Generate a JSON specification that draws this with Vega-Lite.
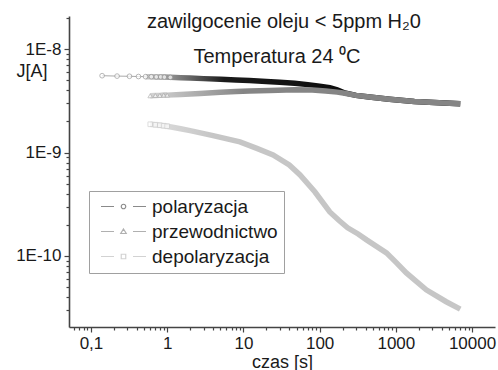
{
  "$schema": "https://vega.github.io/schema/vega-lite/v6.json",
  "width": 426,
  "height": 311,
  "autosize": {"type": "none"},
  "padding": {"left": 69, "top": 16, "right": 3, "bottom": 43},
  "background": "white",
  "config": {
    "view": {"stroke": null},
    "font": "Liberation Sans",
    "axis": {
      "grid": false,
      "domainColor": "#444",
      "domainWidth": 1.6,
      "tickColor": "#444",
      "tickWidth": 1.2,
      "labelFont": "Liberation Sans",
      "labelFontSize": 17,
      "labelColor": "#1a1a1a",
      "titleFont": "Liberation Sans",
      "titleFontSize": 18,
      "titleFontWeight": "normal",
      "titleColor": "#1a1a1a",
      "labelOverlap": false,
      "labelFlush": false
    }
  },
  "datasets": {
    "curves": [
      {"series": "polaryzacja", "t": 0.14, "J": 5.55e-9},
      {"series": "polaryzacja", "t": 0.22, "J": 5.5e-9},
      {"series": "polaryzacja", "t": 0.32, "J": 5.48e-9},
      {"series": "polaryzacja", "t": 0.42, "J": 5.45e-9},
      {"series": "polaryzacja", "t": 0.52, "J": 5.43e-9},
      {"series": "polaryzacja", "t": 0.62, "J": 5.42e-9},
      {"series": "polaryzacja", "t": 0.72, "J": 5.4e-9},
      {"series": "polaryzacja", "t": 0.82, "J": 5.4e-9},
      {"series": "polaryzacja", "t": 0.92, "J": 5.38e-9},
      {"series": "polaryzacja", "t": 1.1, "J": 5.35e-9},
      {"series": "polaryzacja", "t": 1.5, "J": 5.3e-9},
      {"series": "polaryzacja", "t": 2, "J": 5.26e-9},
      {"series": "polaryzacja", "t": 3, "J": 5.2e-9},
      {"series": "polaryzacja", "t": 5, "J": 5.12e-9},
      {"series": "polaryzacja", "t": 8, "J": 5.05e-9},
      {"series": "polaryzacja", "t": 12, "J": 5.0e-9},
      {"series": "polaryzacja", "t": 20, "J": 4.88e-9},
      {"series": "polaryzacja", "t": 30, "J": 4.8e-9},
      {"series": "polaryzacja", "t": 47, "J": 4.7e-9},
      {"series": "polaryzacja", "t": 70, "J": 4.55e-9},
      {"series": "polaryzacja", "t": 100, "J": 4.4e-9},
      {"series": "polaryzacja", "t": 136, "J": 4.25e-9},
      {"series": "polaryzacja", "t": 170, "J": 4.05e-9},
      {"series": "polaryzacja", "t": 214, "J": 3.78e-9},
      {"series": "polaryzacja", "t": 300, "J": 3.58e-9},
      {"series": "polaryzacja", "t": 450, "J": 3.45e-9},
      {"series": "polaryzacja", "t": 825, "J": 3.29e-9},
      {"series": "polaryzacja", "t": 1750, "J": 3.13e-9},
      {"series": "polaryzacja", "t": 3700, "J": 3.03e-9},
      {"series": "polaryzacja", "t": 7000, "J": 2.97e-9},
      {"series": "przewodnictwo", "t": 0.6, "J": 3.55e-9},
      {"series": "przewodnictwo", "t": 0.7, "J": 3.57e-9},
      {"series": "przewodnictwo", "t": 0.8, "J": 3.58e-9},
      {"series": "przewodnictwo", "t": 0.9, "J": 3.6e-9},
      {"series": "przewodnictwo", "t": 1.0, "J": 3.6e-9},
      {"series": "przewodnictwo", "t": 1.5, "J": 3.65e-9},
      {"series": "przewodnictwo", "t": 2.7, "J": 3.74e-9},
      {"series": "przewodnictwo", "t": 5, "J": 3.83e-9},
      {"series": "przewodnictwo", "t": 8, "J": 3.9e-9},
      {"series": "przewodnictwo", "t": 12, "J": 3.95e-9},
      {"series": "przewodnictwo", "t": 22, "J": 4.0e-9},
      {"series": "przewodnictwo", "t": 47, "J": 4.05e-9},
      {"series": "przewodnictwo", "t": 80, "J": 4.03e-9},
      {"series": "przewodnictwo", "t": 120, "J": 3.95e-9},
      {"series": "przewodnictwo", "t": 170, "J": 3.85e-9},
      {"series": "przewodnictwo", "t": 214, "J": 3.75e-9},
      {"series": "przewodnictwo", "t": 300, "J": 3.58e-9},
      {"series": "przewodnictwo", "t": 450, "J": 3.45e-9},
      {"series": "przewodnictwo", "t": 825, "J": 3.29e-9},
      {"series": "przewodnictwo", "t": 1750, "J": 3.13e-9},
      {"series": "przewodnictwo", "t": 3700, "J": 3.03e-9},
      {"series": "przewodnictwo", "t": 7000, "J": 2.97e-9},
      {"series": "depolaryzacja", "t": 0.6, "J": 1.88e-9},
      {"series": "depolaryzacja", "t": 0.7, "J": 1.86e-9},
      {"series": "depolaryzacja", "t": 0.8, "J": 1.84e-9},
      {"series": "depolaryzacja", "t": 0.9, "J": 1.82e-9},
      {"series": "depolaryzacja", "t": 1.0, "J": 1.8e-9},
      {"series": "depolaryzacja", "t": 1.5, "J": 1.7e-9},
      {"series": "depolaryzacja", "t": 2, "J": 1.63e-9},
      {"series": "depolaryzacja", "t": 4, "J": 1.46e-9},
      {"series": "depolaryzacja", "t": 9, "J": 1.27e-9},
      {"series": "depolaryzacja", "t": 15, "J": 1.1e-9},
      {"series": "depolaryzacja", "t": 24.5, "J": 9.5e-10},
      {"series": "depolaryzacja", "t": 40, "J": 7.6e-10},
      {"series": "depolaryzacja", "t": 55, "J": 6.1e-10},
      {"series": "depolaryzacja", "t": 87, "J": 4.15e-10},
      {"series": "depolaryzacja", "t": 136, "J": 2.66e-10},
      {"series": "depolaryzacja", "t": 180, "J": 2.2e-10},
      {"series": "depolaryzacja", "t": 233, "J": 1.87e-10},
      {"series": "depolaryzacja", "t": 320, "J": 1.63e-10},
      {"series": "depolaryzacja", "t": 413, "J": 1.43e-10},
      {"series": "depolaryzacja", "t": 754, "J": 1.07e-10},
      {"series": "depolaryzacja", "t": 1000, "J": 8.7e-11},
      {"series": "depolaryzacja", "t": 1374, "J": 6.85e-11},
      {"series": "depolaryzacja", "t": 2506, "J": 4.69e-11},
      {"series": "depolaryzacja", "t": 4580, "J": 3.6e-11},
      {"series": "depolaryzacja", "t": 7000, "J": 3.05e-11}
    ],
    "notes": [
      {"label": "zawilgocenie oleju < 5ppm H₂0", "t": 34, "J": 1.82e-8},
      {"label": "Temperatura 24 ⁰C", "t": 27.6, "J": 8.4e-9}
    ]
  },
  "encoding": {
    "x": {
      "field": "t", "type": "quantitative",
      "scale": {"type": "log", "domain": [0.0515, 20000], "nice": false},
      "axis": {
        "title": "czas [s]",
        "titlePadding": 2,
        "labelPadding": 3,
        "values": [0.06,0.07,0.08,0.09,0.1,0.2,0.3,0.4,0.5,0.6,0.7,0.8,0.9,1,2,3,4,5,6,7,8,9,10,20,30,40,50,60,70,80,90,100,200,300,400,500,600,700,800,900,1000,2000,3000,4000,5000,6000,7000,8000,9000,10000],
        "labelExpr": "abs(log(datum.value)/LN10 - round(log(datum.value)/LN10)) < 1e-6 ? replace(format(datum.value, '~g'), '.', ',') : ''",
        "tickSize": {"condition": {"test": "abs(log(datum.value)/LN10 - round(log(datum.value)/LN10)) < 1e-6", "value": 5}, "value": 3}
      }
    },
    "y": {
      "field": "J", "type": "quantitative",
      "scale": {"type": "log", "domain": [2.05e-11, 2.1e-8], "nice": false},
      "axis": {
        "title": "J[A]",
        "titleAngle": 0,
        "titleAlign": "left",
        "titleBaseline": "middle",
        "titleX": -53,
        "titleY": 55,
        "labelPadding": 3,
        "values": [3e-11,4e-11,5e-11,6e-11,7e-11,8e-11,9e-11,1e-10,2e-10,3e-10,4e-10,5e-10,6e-10,7e-10,8e-10,9e-10,1e-9,2e-9,3e-9,4e-9,5e-9,6e-9,7e-9,8e-9,9e-9,1e-8,2e-8],
        "labelExpr": "abs(log(datum.value)/LN10 - round(log(datum.value)/LN10)) < 1e-6 ? '1E' + round(log(datum.value)/LN10) : ''",
        "tickSize": {"condition": {"test": "abs(log(datum.value)/LN10 - round(log(datum.value)/LN10)) < 1e-6", "value": 5}, "value": 3}
      }
    }
  },
  "layer": [
    {
      "data": {"name": "curves"},
      "transform": [{"filter": "datum.series == 'polaryzacja'"}],
      "mark": {"type": "line", "strokeWidth": 1, "color": "#aaaaaa"},
      "encoding": {}
    },
    {
      "data": {"name": "curves"},
      "transform": [{"filter": "datum.series == 'polaryzacja' && datum.t >= 0.45"}],
      "mark": {"type": "line", "strokeWidth": 5.5, "strokeCap": "butt",
        "stroke": {"gradient": "linear", "x1": 0, "y1": 0, "x2": 1, "y2": 0,
          "stops": [{"offset": 0, "color": "#c8c8c8"}, {"offset": 0.25, "color": "#1a1a1a"}, {"offset": 1, "color": "#000000"}]}},
      "encoding": {}
    },
    {
      "data": {"name": "curves"},
      "transform": [{"filter": "datum.series == 'przewodnictwo'"}],
      "mark": {"type": "line", "strokeWidth": 5.5, "strokeCap": "butt",
        "stroke": {"gradient": "linear", "x1": 0, "y1": 0, "x2": 1, "y2": 0,
          "stops": [{"offset": 0, "color": "#d4d4d4"}, {"offset": 0.3, "color": "#858585"}, {"offset": 1, "color": "#858585"}]}},
      "encoding": {}
    },
    {
      "data": {"name": "curves"},
      "transform": [{"filter": "datum.series == 'depolaryzacja'"}],
      "mark": {"type": "line", "strokeWidth": 5.5, "strokeCap": "butt",
        "stroke": {"gradient": "linear", "x1": 0, "y1": 0, "x2": 1, "y2": 0,
          "stops": [{"offset": 0, "color": "#dedede"}, {"offset": 0.2, "color": "#c6c6c6"}, {"offset": 1, "color": "#c6c6c6"}]}},
      "encoding": {}
    },
    {
      "data": {"name": "curves"},
      "transform": [{"filter": "datum.series == 'polaryzacja' && datum.t < 1.2"}],
      "mark": {"type": "point", "shape": "circle", "size": 22, "filled": true, "fill": "white", "stroke": "#9a9a9a", "strokeWidth": 1}
    },
    {
      "data": {"name": "curves"},
      "transform": [{"filter": "datum.series == 'przewodnictwo' && datum.t < 1.2"}],
      "mark": {"type": "point", "shape": "triangle-up", "size": 22, "filled": true, "fill": "white", "stroke": "#b0b0b0", "strokeWidth": 1}
    },
    {
      "data": {"name": "curves"},
      "transform": [{"filter": "datum.series == 'depolaryzacja' && datum.t < 1.2"}],
      "mark": {"type": "point", "shape": "square", "size": 22, "filled": true, "fill": "white", "stroke": "#d0d0d0", "strokeWidth": 1}
    },
    {
      "data": {"name": "curves"},
      "mark": {"type": "point", "filled": false, "opacity": 0},
      "encoding": {
        "shape": {
          "field": "series", "type": "nominal",
          "scale": {
            "domain": ["polaryzacja", "przewodnictwo", "depolaryzacja"],
            "range": [
              "M-4.5,0 L-1.9,0 M1.9,0 L4.5,0 M0.45,0 A0.45,0.45 0 1,1 -0.45,0 A0.45,0.45 0 1,1 0.45,0 Z",
              "M-4.5,0 L-1.9,0 M1.9,0 L4.5,0 M0,-0.5 L0.55,0.4 L-0.55,0.4 Z",
              "M-4.5,0 L-1.9,0 M1.9,0 L4.5,0 M-0.45,-0.45 L0.45,-0.45 L0.45,0.45 L-0.45,0.45 Z"
            ]
          },
          "legend": {
            "title": null, "orient": "none", "legendX": 20, "legendY": 175,
            "padding": 6, "strokeColor": "#a0a0a0", "fillColor": "white",
            "symbolSize": 100, "symbolOffset": 19, "labelOffset": 19,
            "symbolOpacity": 1, "symbolStrokeWidth": 1.2, "symbolFillColor": "white",
            "labelFont": "Liberation Sans", "labelFontSize": 19, "labelColor": "#1a1a1a",
            "rowPadding": 5
          }
        },
        "color": {
          "field": "series", "type": "nominal",
          "scale": {
            "domain": ["polaryzacja", "przewodnictwo", "depolaryzacja"],
            "range": ["#8a8a8a", "#b0b0b0", "#d2d2d2"]
          },
          "legend": {
            "title": null, "orient": "none", "legendX": 20, "legendY": 175,
            "padding": 6, "strokeColor": "#a0a0a0", "fillColor": "white",
            "symbolSize": 100, "symbolOffset": 19, "labelOffset": 19,
            "symbolOpacity": 1, "symbolStrokeWidth": 1.2, "symbolFillColor": "white",
            "labelFont": "Liberation Sans", "labelFontSize": 19, "labelColor": "#1a1a1a",
            "rowPadding": 5
          }
        }
      }
    },
    {
      "data": {"name": "notes"},
      "mark": {"type": "text", "align": "center", "baseline": "middle", "font": "Liberation Sans", "fontSize": 20, "color": "#1a1a1a"},
      "encoding": {"text": {"field": "label"}}
    }
  ]
}
